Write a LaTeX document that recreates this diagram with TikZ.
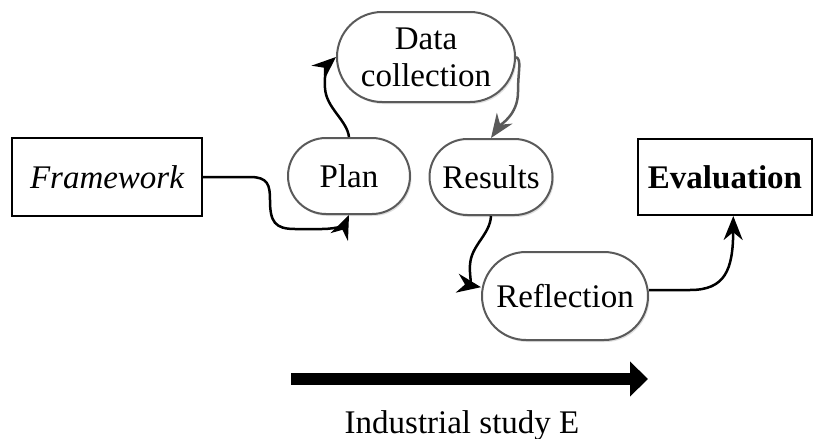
\documentclass[tikz,border=0pt]{standalone}
\usepackage{fontspec}
\setmainfont{Liberation Serif}
\newfontfamily\tnr{Liberation Serif}
\usetikzlibrary{arrows.meta,shadows}
\definecolor{pillgray}{RGB}{90,90,90}
\begin{document}
\begin{tikzpicture}[x=1pt,y=-1pt,
  every node/.style={font=\tnr\fontsize{33}{37}\selectfont},
  box/.style={draw=black,line width=2pt,inner sep=0pt},
  pill/.style={draw=pillgray,line width=2pt,inner sep=0pt,fill=white,
    drop shadow={shadow xshift=1.5pt,shadow yshift=-2pt,opacity=0.25,fill=gray}},
  conn/.style={line width=2.5pt,-{Stealth[length=24pt,width=19pt]}}]
\useasboundingbox (0,0) rectangle (817,439);
\node[box,minimum width=190pt,minimum height=78pt] (fw) at (107,177) {\itshape Framework};
\node[pill,minimum width=122pt,minimum height=76pt,rounded corners=38pt] (plan) at (349,176) {Plan};
\node[pill,minimum width=178pt,minimum height=90pt,rounded corners=45pt,align=center] (dc) at (426,57) {Data\\collection};
\node[pill,minimum width=123pt,minimum height=76pt,rounded corners=38pt] (res) at (491,177) {Results};
\node[pill,minimum width=166pt,minimum height=88pt,rounded corners=44pt] (refl) at (565,296) {Reflection};
\node[box,minimum width=174pt,minimum height=76pt] (eval) at (725,177) {\bfseries Evaluation};
\draw[conn] (fw.east) -- (250,177) .. controls (268,177) and (270,185) .. (270,200) .. controls (270,222) and (275,229) .. (295,229) -- (322,229) .. controls (338,229) and (345,224) .. (plan.south);
\draw[conn] (plan.north) .. controls (347,120) and (326,108) .. (325,88) .. controls (324,72) and (328,64) .. (dc.west);
\draw[conn,draw=pillgray] (dc.east) .. controls (522,60) and (518,70) .. (518,92) .. controls (518,115) and (500,125) .. (res.north);
\draw[conn] (res.south) .. controls (490,235) and (471,245) .. (470,265) .. controls (469,278) and (474,286) .. (refl.174);
\draw[conn] (refl.4) -- (690,290) .. controls (725,290) and (733,270) .. (eval.-78);
\coordinate (s0) at (291,379);
\coordinate (s1) at (648,379);
\draw[line width=12pt,-{Triangle[length=18pt,width=34pt]}] (s0) -- (s1);
\node[anchor=base] (lab) at (462,433) {Industrial study E};
\end{tikzpicture}
\end{document}
